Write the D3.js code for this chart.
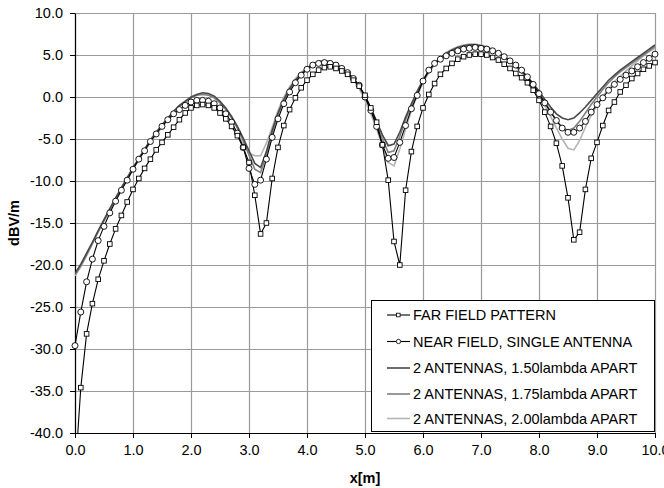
<!DOCTYPE html>
<html><head><meta charset="utf-8">
<script src="https://cdn.jsdelivr.net/npm/d3@7"></script>
<style>body{margin:0;background:#fff;} svg{display:block;font-family:"Liberation Sans",Arial,sans-serif;}</style>
</head><body>
<svg id="c" width="664" height="488"></svg>
<script>
const xValues = [0.0,0.1,0.2,0.3,0.4,0.5,0.6,0.7,0.8,0.9,1.0,1.1,1.2,1.3,1.4,1.5,1.6,1.7,1.8,1.9,2.0,2.1,2.2,2.3,2.4,2.5,2.6,2.7,2.8,2.9,3.0,3.1,3.2,3.3,3.4,3.5,3.6,3.7,3.8,3.9,4.0,4.1,4.2,4.3,4.4,4.5,4.6,4.7,4.8,4.9,5.0,5.1,5.2,5.3,5.4,5.5,5.6,5.7,5.8,5.9,6.0,6.1,6.2,6.3,6.4,6.5,6.6,6.7,6.8,6.9,7.0,7.1,7.2,7.3,7.4,7.5,7.6,7.7,7.8,7.9,8.0,8.1,8.2,8.3,8.4,8.5,8.6,8.7,8.8,8.9,9.0,9.1,9.2,9.3,9.4,9.5,9.6,9.7,9.8,9.9,10.0];

const farField = [-45,-34.6,-28.2,-24.6,-21.7,-19.5,-17.5,-15.7,-14.1,-12.5,
 -11.0,-9.7,-8.5,-7.4,-6.3,-5.4,-4.5,-3.6,-2.7,-1.9,
 -1.3,-1.0,-0.9,-1.0,-1.3,-1.9,-2.6,-3.5,-4.6,-6.0,
 -7.8,-11.7,-16.3,-15.0,-9.7,-6.0,-3.4,-1.5,-0.1,1.1,
 2.0,2.7,3.2,3.5,3.6,3.4,3.1,2.7,2.0,1.3,
 0.2,-1.3,-3.0,-5.7,-9.9,-17.2,-20.0,-11.1,-6.5,-3.5,
 -1.3,0.3,1.6,2.7,3.4,4.0,4.5,4.8,5.0,5.1,
 5.1,5.0,4.7,4.4,3.9,3.4,2.8,2.3,1.7,0.8,
 -0.4,-1.8,-3.5,-5.5,-8.2,-12.0,-17.0,-16.1,-11.0,-7.3,
 -5.4,-3.4,-1.6,-0.6,0.6,1.4,2.2,2.8,3.3,3.7,4.1];

const nearField = [-29.6,-25.6,-22.0,-19.3,-17.1,-15.4,-13.8,-12.4,-11.1,-9.9,
 -8.6,-7.4,-6.4,-5.3,-4.4,-3.5,-2.7,-2.0,-1.5,-1.0,
 -0.6,-0.4,-0.4,-0.5,-0.8,-1.3,-2.0,-3.0,-4.3,-6.0,
 -8.5,-10.4,-9.9,-7.4,-4.8,-2.6,-0.8,0.6,1.7,2.6,
 3.3,3.8,4.0,4.1,4.0,3.8,3.4,2.9,2.2,1.4,
 0.0,-1.6,-3.5,-5.7,-7.3,-7.2,-5.4,-3.4,-1.4,0.2,
 1.9,3.2,4.0,4.5,4.9,5.2,5.5,5.7,5.8,5.9,
 5.8,5.7,5.5,5.2,4.8,4.3,3.8,3.2,2.4,1.5,
 0.4,-0.7,-1.8,-2.8,-3.7,-4.2,-4.2,-3.7,-2.9,-1.8,
 -0.9,-0.1,0.8,1.5,2.1,2.6,3.1,3.6,4.1,4.6,5.1];

const ant150 = [-21.0,-19.9,-18.6,-17.3,-15.9,-14.6,-13.3,-12.0,-10.8,-9.6,
 -8.4,-7.3,-6.2,-5.1,-4.2,-3.3,-2.5,-1.7,-1.0,-0.5,
 0.0,0.3,0.5,0.4,0.1,-0.5,-1.3,-2.3,-3.5,-4.9,
 -6.4,-7.9,-8.4,-6.5,-4.0,-1.9,-0.3,1.0,2.0,2.8,
 3.4,3.9,4.2,4.3,4.2,3.9,3.5,2.9,2.2,1.3,
 0.1,-1.3,-2.9,-4.5,-5.8,-5.6,-4.2,-2.4,-0.8,0.7,
 2.0,3.1,4.0,4.7,5.2,5.6,5.9,6.1,6.2,6.2,
 6.1,5.9,5.6,5.2,4.8,4.3,3.7,3.1,2.4,1.6,
 0.7,-0.3,-1.2,-2.0,-2.5,-2.7,-2.5,-1.9,-1.2,-0.4,
 0.4,1.2,2.0,2.6,3.2,3.7,4.2,4.7,5.2,5.7,6.2];

const ant175 = [-21.2,-20.1,-18.8,-17.4,-16.0,-14.7,-13.4,-12.1,-10.9,-9.7,
 -8.5,-7.4,-6.3,-5.2,-4.3,-3.4,-2.6,-1.8,-1.1,-0.6,
 -0.1,0.2,0.3,0.2,-0.1,-0.7,-1.5,-2.5,-3.7,-5.2,
 -6.9,-8.6,-9.0,-6.9,-4.3,-2.1,-0.4,0.9,1.9,2.7,
 3.3,3.8,4.1,4.2,4.1,3.8,3.4,2.8,2.1,1.2,
 0.0,-1.5,-3.2,-5.0,-6.6,-6.4,-4.7,-2.7,-1.0,0.5,
 1.9,3.0,3.9,4.6,5.1,5.5,5.8,6.0,6.1,6.1,
 6.0,5.8,5.5,5.1,4.7,4.2,3.6,3.0,2.2,1.4,
 0.5,-0.6,-1.7,-2.8,-3.6,-4.0,-3.7,-2.9,-1.9,-0.9,
 0.0,0.9,1.7,2.4,3.0,3.5,4.0,4.5,5.0,5.5,6.0];

const ant200 = [-21.3,-20.2,-18.9,-17.5,-16.1,-14.8,-13.5,-12.2,-11.0,-9.8,
 -8.6,-7.5,-6.4,-5.4,-4.5,-3.6,-2.8,-2.1,-1.5,-1.0,
 -0.7,-0.5,-0.5,-0.7,-1.1,-1.7,-2.4,-3.3,-4.4,-5.6,
 -6.7,-7.0,-7.0,-5.5,-3.6,-1.6,0.0,1.2,2.2,2.9,
 3.5,3.9,4.2,4.3,4.2,3.9,3.5,2.9,2.1,1.0,
 -0.4,-2.0,-3.8,-5.8,-7.8,-8.2,-6.2,-3.8,-1.6,0.2,
 1.7,2.9,3.9,4.7,5.3,5.7,6.0,6.2,6.3,6.3,
 6.2,6.0,5.7,5.3,4.8,4.3,3.6,2.9,2.1,1.2,
 0.2,-1.0,-2.3,-3.7,-5.0,-6.1,-6.3,-5.2,-3.6,-2.2,
 -1.0,0.1,1.0,1.8,2.5,3.1,3.7,4.3,4.9,5.4,5.8];

const seriesNames = ["FAR FIELD PATTERN","NEAR FIELD, SINGLE ANTENNA","2 ANTENNAS, 1.50lambda APART","2 ANTENNAS, 1.75lambda APART","2 ANTENNAS, 2.00lambda APART"];
const xTicks = [0,1,2,3,4,5,6,7,8,9,10];
const xTickLabels = ["0.0","1.0","2.0","3.0","4.0","5.0","6.0","7.0","8.0","9.0","10.0"];
const yTicks = [-40,-35,-30,-25,-20,-15,-10,-5,0,5,10];
const yTickLabels = ["-40.0","-35.0","-30.0","-25.0","-20.0","-15.0","-10.0","-5.0","0.0","5.0","10.0"];

const L = 75, R = 655, T = 13, B = 433;
const svg = d3.select("#c");
const x = d3.scaleLinear().domain([0,10]).range([L,R]);
const y = d3.scaleLinear().domain([-40,10]).range([B,T]);

// grid
svg.append("g").attr("transform",`translate(0,${B})`)
  .call(d3.axisBottom(x).tickValues(xTicks).tickSize(-(B-T)).tickFormat(""))
  .call(g=>{g.select(".domain").remove(); g.selectAll("line").attr("stroke","#9a9a9a").attr("stroke-width",1.2);});
svg.append("g").attr("transform",`translate(${L},0)`)
  .call(d3.axisLeft(y).tickValues(yTicks).tickSize(-(R-L)).tickFormat(""))
  .call(g=>{g.select(".domain").remove(); g.selectAll("line").attr("stroke","#9a9a9a").attr("stroke-width",1.2);});

// axes
const fs = 14.5;
svg.append("g").attr("transform",`translate(0,${B})`)
  .call(d3.axisBottom(x).tickValues(xTicks).tickSize(5).tickSizeOuter(0).tickPadding(7).tickFormat((d,i)=>xTickLabels[i]))
  .call(g=>{g.select(".domain").attr("stroke","#000").attr("stroke-width",1.2);
    g.selectAll("line").attr("stroke","#000");
    g.selectAll("text").attr("font-size",fs).attr("font-family","Liberation Sans, Arial, sans-serif").attr("fill","#000");});
svg.append("g").attr("transform",`translate(${L},0)`)
  .call(d3.axisLeft(y).tickValues(yTicks).tickSize(5).tickSizeOuter(0).tickPadding(7).tickFormat((d,i)=>yTickLabels[i]))
  .call(g=>{g.select(".domain").attr("stroke","#000").attr("stroke-width",1.2);
    g.selectAll("line").attr("stroke","#000");
    g.selectAll("text").attr("font-size",fs).attr("font-family","Liberation Sans, Arial, sans-serif").attr("fill","#000");});

svg.append("text").attr("x",365).attr("y",483).attr("text-anchor","middle")
  .attr("font-size",14.5).attr("font-weight","bold").text("x[m]");
svg.append("text").attr("transform","translate(19,223) rotate(-90)").attr("text-anchor","middle")
  .attr("font-size",14.5).attr("font-weight","bold").text("dBV/m");

// clip
svg.append("clipPath").attr("id","clip").append("rect").attr("x",L).attr("y",T).attr("width",R-L).attr("height",B-T);

const line = d3.line().x((d,i)=>x(xValues[i])).y(d=>y(d));
const plot = svg.append("g").attr("clip-path","url(#clip)");
const lineSeries = [
  {v:ant200, c:"#b4b4b4", w:1.6},
  {v:ant175, c:"#808080", w:1.6},
  {v:ant150, c:"#484848", w:1.6}
];
lineSeries.forEach(s=>plot.append("path").datum(s.v).attr("d",line).attr("fill","none").attr("stroke",s.c).attr("stroke-width",s.w));

plot.append("path").datum(nearField).attr("d",line).attr("fill","none").attr("stroke","#000").attr("stroke-width",1.1);
plot.append("path").datum(farField).attr("d",line).attr("fill","none").attr("stroke","#000").attr("stroke-width",1.1);

const nfPts = xValues.map((xv,i)=>[xv,nearField[i]]).filter(p=>p[1]>=-40);
svg.append("g").selectAll("circle").data(nfPts).join("circle")
  .attr("cx",d=>x(d[0])).attr("cy",d=>y(d[1])).attr("r",3)
  .attr("fill","#fff").attr("stroke","#000").attr("stroke-width",0.9);
const ffPts = xValues.map((xv,i)=>[xv,farField[i]]).filter(p=>p[1]>=-40);
svg.append("g").selectAll("rect").data(ffPts).join("rect")
  .attr("x",d=>x(d[0])-2.3).attr("y",d=>y(d[1])-2.3).attr("width",4.6).attr("height",4.6)
  .attr("fill","#fff").attr("stroke","#000").attr("stroke-width",0.9);

// legend
const lg = svg.append("g");
lg.append("rect").attr("x",371.5).attr("y",300.5).attr("width",283).attr("height",131)
  .attr("fill","#fff").attr("stroke","#000").attr("stroke-width",1);
const rowsY = [315,341.5,368,394,418.5];
const legendStyles = [
  {c:"#000", m:"square"},{c:"#000", m:"circle"},{c:"#484848"},{c:"#808080"},{c:"#b4b4b4"}
];
seriesNames.forEach((n,i)=>{
  const yy = rowsY[i], st = legendStyles[i];
  lg.append("line").attr("x1",387).attr("x2",410).attr("y1",yy).attr("y2",yy)
    .attr("stroke",st.c).attr("stroke-width",i<2?1.1:1.6);
  if(st.m==="square") lg.append("rect").attr("x",396.5).attr("y",yy-1.8).attr("width",3.6).attr("height",3.6).attr("fill","#fff").attr("stroke","#000").attr("stroke-width",0.8);
  if(st.m==="circle") lg.append("circle").attr("cx",398.5).attr("cy",yy).attr("r",2.2).attr("fill","#fff").attr("stroke","#000").attr("stroke-width",0.8);
  lg.append("text").attr("x",413).attr("y",yy+5).attr("font-size",14.5).text(n);
});
</script>
</body></html>
